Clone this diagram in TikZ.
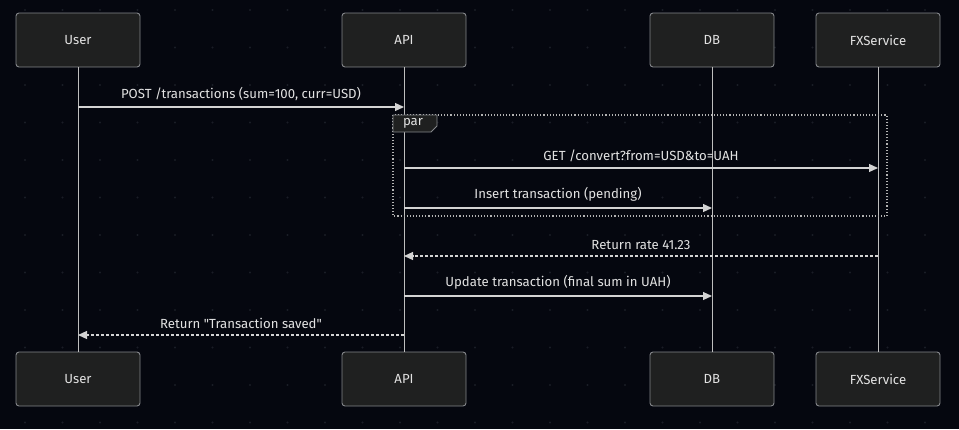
\documentclass[tikz,border=0pt]{standalone}
\usepackage{fontspec}
\setmainfont{Fira Sans}
\usepackage{xcolor}
\usepackage{tikz}
\usetikzlibrary{arrows.meta}
\definecolor{bgdark}{HTML}{05070F}
\definecolor{griddot}{HTML}{1A1D26}
\definecolor{actorfill}{HTML}{1F2020}
\definecolor{actorline}{HTML}{84868A}
\definecolor{msgline}{HTML}{D3D3D3}
\definecolor{msgtext}{HTML}{E2E2E2}

\begin{document}
\begin{tikzpicture}[x=1pt, y=-1pt,
  every node/.style={font=\fontsize{13.2}{16}\selectfont, text=msgtext},
  actor/.style={draw=actorline, line width=0.9pt, fill=actorfill, rounded corners=3pt, minimum width=124pt, minimum height=54pt},
  life/.style={draw=msgline!90!black, line width=1pt},
  msg/.style={draw=msgline, line width=1.2pt, -{Triangle[length=9pt, width=8pt]}},
  reply/.style={msg, densely dashed},
  msglabel/.style={above=6pt, inner sep=0pt}]
  \fill[bgdark] (0,0) rectangle (959,429);
  \useasboundingbox (0,0) rectangle (959,429);
  % dotted grid
  \foreach \i in {0,...,24}
    \foreach \j in {0,...,11}
      \fill[griddot] (25+37.5*\i, 10+37.5*\j) circle (1.1pt);
  % actors and lifelines
  \foreach \name/\x/\lbl in {user/78/User, api/404/API, db/712/DB, fx/878/FXService} {
    \node[actor] (\name top) at (\x,40) {\lbl};
    \node[actor] (\name bot) at (\x,379) {\lbl};
    \draw[life] (\name top) -- (\name bot);
  }
  % par block
  \draw[msgline!85!black, line width=1.1pt, dotted] (393,115) rectangle (887,216);
  \draw[actorline, fill=actorfill, line width=0.9pt] (393,115) -- (437,115) -- (437,126) -- (431,132) -- (393,132) -- cycle;
  \node (parlbl) at (413,123.5) {par};
  % messages
  \path (usertop |- 0,107) coordinate (post0) (apitop |- 0,107) coordinate (post1)
        (apitop |- 0,168) coordinate (get0) (fxtop |- 0,168) coordinate (get1)
        (apitop |- 0,208) coordinate (ins0) (dbtop |- 0,208) coordinate (ins1)
        (fxtop |- 0,256) coordinate (rate0) (apitop |- 0,256) coordinate (rate1)
        (apitop |- 0,296) coordinate (upd0) (dbtop |- 0,296) coordinate (upd1)
        (apitop |- 0,335) coordinate (saved0) (usertop |- 0,335) coordinate (saved1);
  \draw[msg] (post0) -- node[msglabel] {POST /transactions (sum=100, curr=USD)} (post1);
  \draw[msg] (get0) -- node[msglabel] {GET /convert?from=USD\&to=UAH} (get1);
  \draw[msg] (ins0) -- node[msglabel] {Insert transaction (pending)} (ins1);
  \draw[reply] (rate0) -- node[msglabel] {Return rate 41.23} (rate1);
  \draw[msg] (upd0) -- node[msglabel] {Update transaction (final sum in UAH)} (upd1);
  \draw[reply] (saved0) -- node[msglabel] {Return \textquotedbl Transaction saved\textquotedbl} (saved1);
\end{tikzpicture}
\end{document}
